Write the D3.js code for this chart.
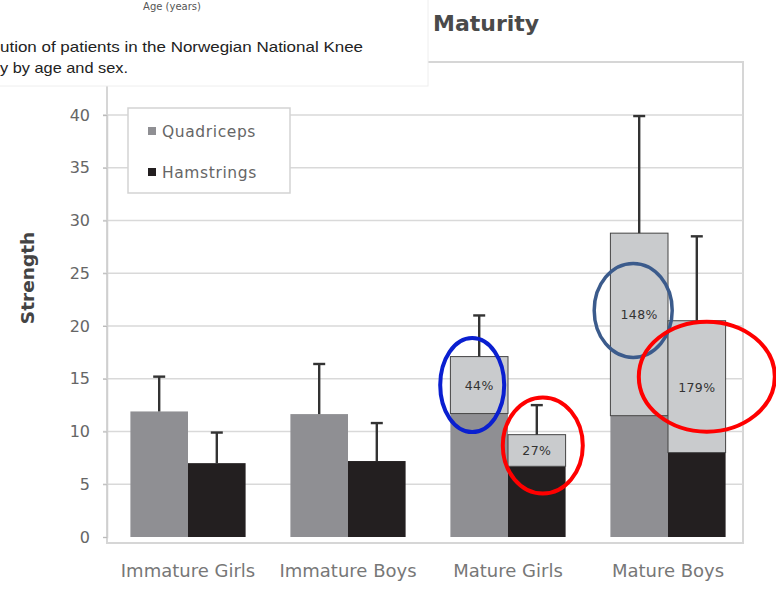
<!DOCTYPE html>
<html>
<head>
<meta charset="utf-8">
<script src="https://cdn.jsdelivr.net/npm/d3@7"></script>
<style>
  body { margin: 0; background: #fff; }
  svg { display: block; font-family: "DejaVu Sans", Verdana, sans-serif; }
</style>
</head>
<body>
<svg id="chart"></svg>
<script>
// data
const categories = ["Immature Girls", "Immature Boys", "Mature Girls", "Mature Boys"]
const quadBase = [11.9, 11.65, 11.7, 11.5]
const quadTotal = [11.9, 11.65, 17.1, 28.8]
const quadErr = [15.2, 16.4, 21.0, 39.9]
const hamBase = [7.0, 7.2, 6.7, 8.0]
const hamTotal = [7.0, 7.2, 9.7, 20.5]
const hamErr = [9.9, 10.8, 12.5, 28.5]
const quadPct = ["", "", "44%", "148%"]
const hamPct = ["", "", "27%", "179%"]
const yTicks = [0, 5, 10, 15, 20, 25, 30, 35, 40]
const series = ["Quadriceps", "Hamstrings"]

const width = 776, height = 590
const svg = d3.select("#chart").attr("width", width).attr("height", height)

const plotL = 107, plotR = 743, plotT = 62, plotB = 537

const y = d3.scaleLinear().domain([0, 40]).range([plotB, 115])
const x = d3.scaleBand().domain(categories).range([108, 748]).paddingInner(0.28).paddingOuter(0.14)
const x1 = d3.scaleBand().domain(series).range([0, x.bandwidth()])

// plot frame
svg.append("rect")
  .attr("x", plotL).attr("y", plotT)
  .attr("width", plotR - plotL).attr("height", plotB - plotT + 6)
  .attr("fill", "none").attr("stroke", "#d6d6d6").attr("stroke-width", 2)

// gridlines
svg.append("g").selectAll("line")
  .data(yTicks.filter(d => d > 0))
  .enter().append("line")
    .attr("x1", plotL - 4).attr("x2", plotR)
    .attr("y1", d => y(d)).attr("y2", d => y(d))
    .attr("stroke", "#d9d9d9").attr("stroke-width", 1.5)

// y axis
const yAxis = svg.append("g")
  .attr("transform", "translate(" + plotL + ",0)")
  .call(d3.axisLeft(y).tickValues(yTicks).tickSize(4).tickPadding(13))
yAxis.select(".domain").attr("stroke", "#cfcfcf").attr("stroke-width", 1.5)
yAxis.selectAll(".tick line").attr("stroke", "#bbb")
yAxis.selectAll("text").attr("font-size", 16).attr("fill", "#666").attr("font-family", "DejaVu Sans")

svg.append("text")
  .attr("transform", "translate(34,278) rotate(-90)")
  .attr("text-anchor", "middle")
  .attr("font-size", 18.5).attr("font-weight", "bold").attr("fill", "#444")
  .text("Strength")

// x labels
svg.append("g").selectAll("text")
  .data(categories)
  .enter().append("text")
    .attr("x", d => x(d) + x.bandwidth() / 2)
    .attr("y", 577)
    .attr("text-anchor", "middle")
    .attr("font-size", 18).attr("fill", "#777")
    .text(d => d)

const baseColors = { Quadriceps: "#8f8f93", Hamstrings: "#231f20" }
const rows = categories.map((c, i) => [
  { cat: c, s: "Quadriceps", base: quadBase[i], total: quadTotal[i], err: quadErr[i], pct: quadPct[i] },
  { cat: c, s: "Hamstrings", base: hamBase[i], total: hamTotal[i], err: hamErr[i], pct: hamPct[i] }
]).flat()

const bx = d => x(d.cat) + x1(d.s)
const cx = d => bx(d) + x1.bandwidth() / 2

// base segments
svg.append("g").selectAll("rect")
  .data(rows)
  .enter().append("rect")
    .attr("x", bx).attr("width", x1.bandwidth())
    .attr("y", d => y(d.base)).attr("height", d => y(0) - y(d.base))
    .attr("fill", d => baseColors[d.s])

// increment segments
svg.append("g").selectAll("rect")
  .data(rows.filter(d => d.total > d.base))
  .enter().append("rect")
    .attr("x", bx).attr("width", x1.bandwidth())
    .attr("y", d => y(d.total)).attr("height", d => y(d.base) - y(d.total))
    .attr("fill", "#c9cbcd").attr("stroke", "#444").attr("stroke-width", 1)

// error bars
const eb = svg.append("g").attr("stroke", "#333").attr("stroke-width", 2.4)
eb.selectAll("line.v")
  .data(rows).enter().append("line")
    .attr("x1", cx).attr("x2", cx)
    .attr("y1", d => y(d.total)).attr("y2", d => y(d.err))
eb.selectAll("line.h")
  .data(rows).enter().append("line")
    .attr("x1", d => cx(d) - 6).attr("x2", d => cx(d) + 6)
    .attr("y1", d => y(d.err)).attr("y2", d => y(d.err))

// percentage labels
const labelShift = { "148%": -10 }
const labelled = rows.filter(d => d.pct)
const labelY = d => y((d.total + d.base) / 2) + (labelShift[d.pct] || 0)
svg.append("g").selectAll("text")
  .data(labelled)
  .enter().append("text")
    .attr("x", cx)
    .attr("y", d => labelY(d) + 5)
    .attr("text-anchor", "middle")
    .attr("font-size", 12.5).attr("fill", "#333").attr("letter-spacing", 0.4)
    .text(d => d.pct)

// hand drawn highlight rings round the labels
const rings = [
  { pct: "44%", dx: -7, dy: 0, rx: 32, ry: 47, c: "#0a1fd0", w: 4 },
  { pct: "27%", dx: 6, dy: -5, rx: 40, ry: 48, c: "#ff0000", w: 4 },
  { pct: "148%", dx: -6, dy: -4, rx: 39, ry: 47, c: "#3b5b8c", w: 3.5 },
  { pct: "179%", dx: 10, dy: -10, rx: 68, ry: 55, c: "#ff0000", w: 4 }
]
svg.append("g").selectAll("ellipse")
  .data(rings)
  .enter().append("ellipse")
    .attr("cx", r => cx(labelled.find(e => e.pct === r.pct)) + r.dx)
    .attr("cy", r => labelY(labelled.find(e => e.pct === r.pct)) + r.dy)
    .attr("rx", r => r.rx).attr("ry", r => r.ry)
    .attr("fill", "none").attr("stroke", r => r.c).attr("stroke-width", r => r.w)

// legend
const lg = svg.append("g").attr("transform", "translate(128,108)")
lg.append("rect").attr("width", 162).attr("height", 85)
  .attr("fill", "#fff").attr("stroke", "#d3d3d3").attr("stroke-width", 1.5)
series.forEach((s, i) => {
  lg.append("rect").attr("x", 20).attr("y", 19 + i * 41).attr("width", 8).attr("height", 8)
    .attr("fill", baseColors[s])
  lg.append("text").attr("x", 34).attr("y", 29 + i * 41)
    .attr("font-size", 15.5).attr("fill", "#666").attr("letter-spacing", 0.6).text(s)
})

// title (left part hidden under the pasted caption)
svg.append("text")
  .attr("x", 433).attr("y", 31)
  .attr("font-size", 22).attr("font-weight", "bold").attr("fill", "#4a4a4a")
  .text("Maturity")

// pasted caption box from another figure
svg.append("rect").attr("x", -2).attr("y", -2).attr("width", 430).attr("height", 88)
  .attr("fill", "#fff").attr("stroke", "#eee")
svg.append("text").attr("x", 172).attr("y", 10).attr("text-anchor", "middle")
  .attr("font-size", 10).attr("fill", "#555").text("Age (years)")
svg.append("text").attr("x", 0).attr("y", 52)
  .attr("font-family", "Liberation Sans").attr("font-size", 15)
  .attr("textLength", 363).attr("lengthAdjust", "spacingAndGlyphs")
  .attr("fill", "#222").text("ution of patients in the Norwegian National Knee")
svg.append("text").attr("x", 0).attr("y", 73)
  .attr("font-family", "Liberation Sans").attr("font-size", 15)
  .attr("textLength", 128).attr("lengthAdjust", "spacingAndGlyphs")
  .attr("fill", "#222").text("y by age and sex.")
</script>
</body>
</html>
